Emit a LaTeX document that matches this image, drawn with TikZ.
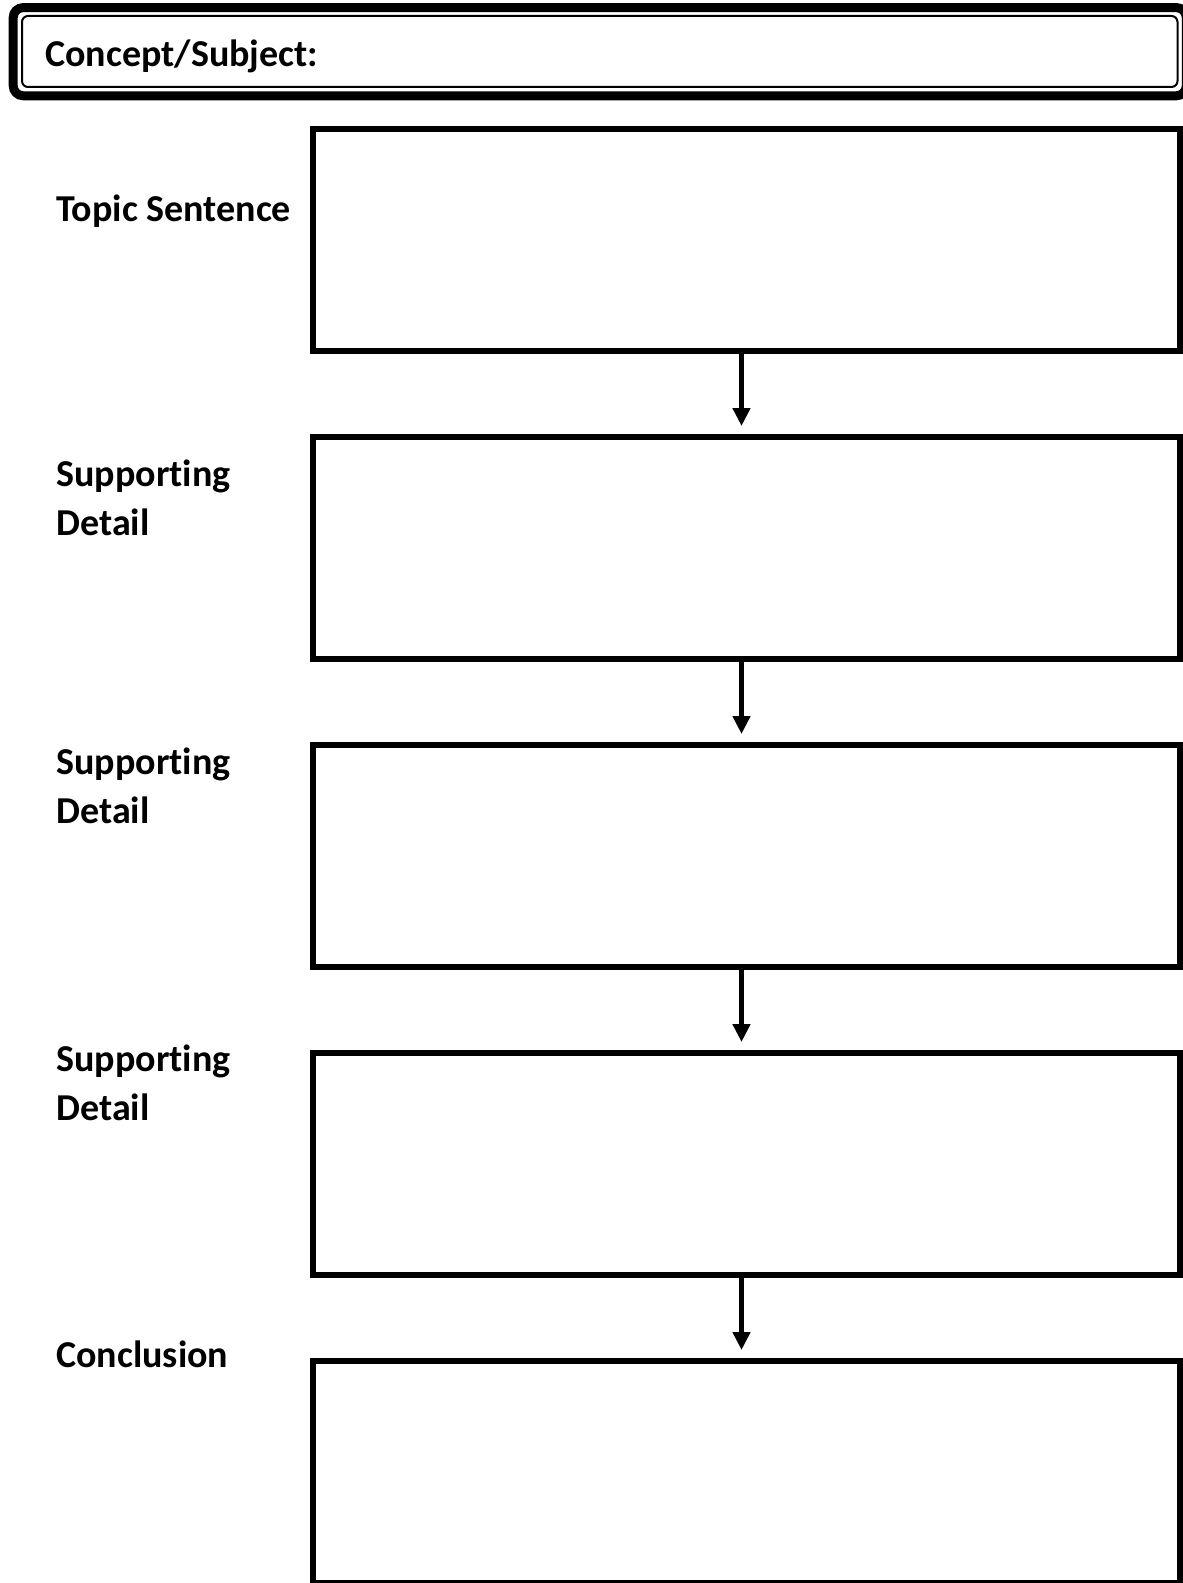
\documentclass[tikz,border=0pt]{standalone}
\usepackage{fontspec}
\setmainfont{Carlito}[Ligatures=NoCommon]
\usetikzlibrary{arrows.meta,positioning}

\tikzset{
  card/.style={draw,line width=3pt,minimum width=433.5pt,minimum height=111pt,inner sep=0pt,outer sep=0pt},
  tag/.style={font=\fontsize{19}{24.5}\selectfont\bfseries,anchor=base west,align=left,inner sep=0pt},
  flow/.style={-{Triangle[length=9pt,width=8.5pt]},line width=2.5pt,shorten >=5.5pt}
}

\begin{document}
\begin{tikzpicture}[x=0.5pt,y=-0.5pt]
        \useasboundingbox (0,0) rectangle (1182,1583);
        % subject header
        \node[draw,line width=1pt,rounded corners=3pt,minimum width=577.75pt,minimum height=35.5pt,inner sep=0pt] (subject) at (599.75,51.5) {};
        \draw[line width=4.5pt,rounded corners=5pt] ([shift={(-3.9pt,3.7pt)}]subject.north west) rectangle ([shift={(3.9pt,-3.9pt)}]subject.south east);
        \node[tag] (subjecttag) at (45,67) {Concept/Subject:};
        % boxes
        \node[card] (box1) at (746.5,240) {};
        \foreach \a/\b in {1/2,2/3,3/4,4/5}{
          \node[card,below=43pt of box\a] (box\b) {};
          \draw[flow] ([xshift=-2.5pt]box\a.south) -- ([xshift=-2.5pt]box\b.north);
        }
        % labels (base = last line)
        \foreach \n/\t/\y in {topic/Topic Sentence/222,detail1/{Supporting\\Detail}/535,detail2/{Supporting\\Detail}/823,detail3/{Supporting\\Detail}/1120,conclusion/Conclusion/1367}{
          \node[tag] (\n) at (56,\y) {\t};
        }
      \end{tikzpicture}
\end{document}
